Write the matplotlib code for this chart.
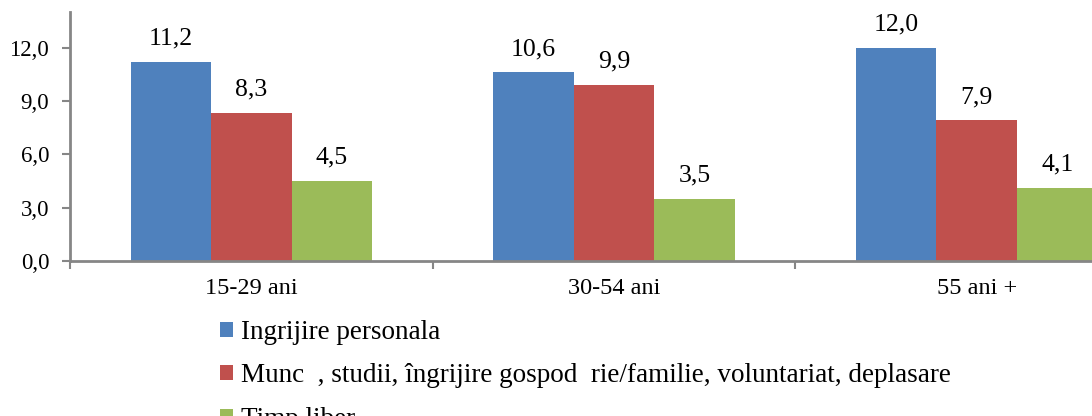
import matplotlib.pyplot as plt
import numpy as np
from matplotlib.patches import Patch

# Donnees du graphique
categories = ['15-29 ani', '30-54 ani', '55 ani +']
series_noms = ['Ingrijire personala',
               'Munc  , studii, îngrijire gospod  rie/familie, voluntariat, deplasare',
               'Timp liber']
ingrijire = [11.2, 10.6, 12.0]
munca = [8.3, 9.9, 7.9]
timp_liber = [4.5, 3.5, 4.1]
couleurs = ['#4F81BD', '#C0504D', '#9BBB59']

plt.rcParams['font.family'] = ['Liberation Serif', 'DejaVu Serif']

fig = plt.figure(figsize=(10.92, 4.16), dpi=100)
# L'axe depasse a droite : le graphique original est coupe
ax = fig.add_axes([70 / 1092, 1 - 261 / 416, 1088 / 1092, 249 / 416])

x = np.arange(len(categories))
largeur = 0.222
for i, (vals, coul) in enumerate(zip([ingrijire, munca, timp_liber], couleurs)):
    pos = x + (i - 1) * largeur
    ax.bar(pos, vals, width=largeur, color=coul, edgecolor='none')
    for px, v in zip(pos, vals):
        ax.annotate(f"{v:.1f}".replace('.', ','), (px, v), xytext=(0, 9),
                    textcoords='offset points', ha='center', va='bottom',
                    fontsize=18.5)

ax.set_xlim(-0.5, 2.5)
ax.set_ylim(0, 14)
ax.set_yticks([0, 3, 6, 9, 12])
ax.set_yticklabels([f"{t:.1f}".replace('.', ',') for t in [0, 3, 6, 9, 12]],
                   fontsize=16.5)

# Ticks majeurs aux separations, labels au centre des groupes
ax.set_xticks([-0.5, 0.5, 1.5, 2.5])
ax.set_xticklabels([])
ax.set_xticks(x, minor=True)
ax.set_xticklabels(categories, minor=True, fontsize=17.5)
ax.tick_params(axis='x', which='minor', length=0, pad=12)
ax.tick_params(axis='x', which='major', length=6, color='#868686', width=1.5)
ax.tick_params(axis='y', length=6, color='#868686', width=1.5, pad=9)

for s in ['top', 'right']:
    ax.spines[s].set_visible(False)
for s in ['left', 'bottom']:
    ax.spines[s].set_color('#868686')
    ax.spines[s].set_linewidth(2)

handles = [Patch(facecolor=c, label=n) for c, n in zip(couleurs, series_noms)]
fig.legend(handles=handles, loc='upper left', bbox_to_anchor=(220 / 1092, 1 - 320 / 416),
           frameon=False, fontsize=19.5, handlelength=0.48, handleheight=0.48,
           handletextpad=0.3, labelspacing=0.68, borderpad=0, borderaxespad=0)

plt.savefig('out.png', dpi=100)
plt.close()
